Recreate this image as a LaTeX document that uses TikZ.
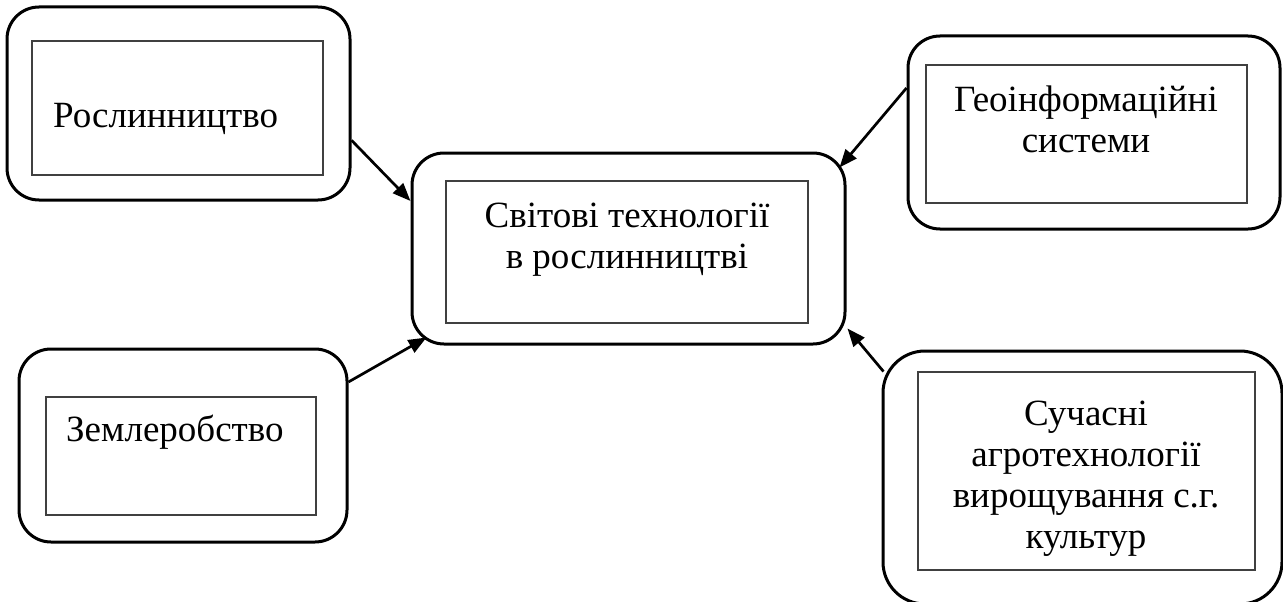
\documentclass[tikz,border=0pt]{standalone}
\usepackage{fontspec}
\setmainfont{Liberation Serif}
\usetikzlibrary{arrows.meta}

\begin{document}
\begin{tikzpicture}[x=1pt, y=-1pt,
  outer/.style={draw, line width=3pt, rounded corners=32pt, inner sep=0pt},
  inner/.style={draw=black!75, line width=1.2pt, inner sep=0pt},
  txt/.style={font=\fontsize{37}{41}\selectfont, align=center, inner sep=0pt},
  link/.style={-{Triangle[length=18pt,width=14pt]}, line width=2.7pt}]
\useasboundingbox (0,0) rectangle (1283,602);
% outer rounded frames
\node[outer, minimum width=343pt, minimum height=193pt] (ros) at (178.5,103.5) {};
\node[outer, minimum width=433pt, minimum height=191pt] (cen) at (628.5,248.5) {};
\node[outer, minimum width=372pt, minimum height=193pt] (geo) at (1094,132.5) {};
\node[outer, minimum width=328pt, minimum height=193pt] (zem) at (183,445.5) {};
\node[outer, rounded corners=42pt, minimum width=399pt, minimum height=253pt] (such) at (1082.5,477.5) {};
% inner text frames
\node[inner, minimum width=291pt, minimum height=134pt] (rosin) at (177.5,108) {};
\node[inner, minimum width=362pt, minimum height=142pt] (cenin) at (627,252) {};
\node[inner, minimum width=321pt, minimum height=138pt] (geoin) at (1086.5,134) {};
\node[inner, minimum width=270pt, minimum height=118pt] (zemin) at (181,456) {};
\node[inner, minimum width=337pt, minimum height=198pt] (suchin) at (1086.5,471) {};
% texts (base = last line)
\node[txt, anchor=base west] (rostxt) at (53,128) {Рослинництво};
\node[txt, anchor=base] (centxt) at (627,268) {Світові технології\\в рослинництві};
\node[txt, anchor=base] (geotxt) at (1086,152) {Геоінформаційні\\системи};
\node[txt, anchor=base west] (zemtxt) at (66,441) {Землеробство};
\node[txt, anchor=base] (suchtxt) at (1086,548) {Сучасні\\агротехнології\\вирощування с.г.\\культур};
% arrows
\draw[link] (ros.-12) -- ([yshift=47.5pt]cen.west);
\draw[link] (zem.21) -- ([xshift=16pt,yshift=8pt]cen.south west);
\draw[link] ([yshift=44.5pt]geo.west) -- ([xshift=-7pt,yshift=-16pt]cen.north east);
\draw[link] ([xshift=2pt,yshift=-22pt]such.north west) -- ([xshift=1pt,yshift=17pt]cen.south east);
\end{tikzpicture}
\end{document}
